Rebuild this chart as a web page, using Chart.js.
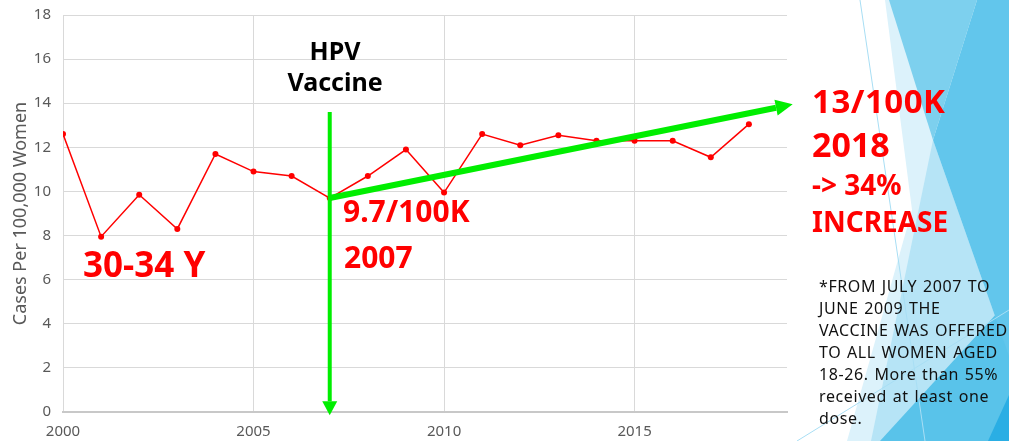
<!DOCTYPE html>
<html>
<head>
<meta charset="utf-8">
<script src="https://cdn.jsdelivr.net/npm/chart.js@4/dist/chart.umd.min.js"></script>
<style>
  html, body { margin: 0; padding: 0; background: #fff; }
  #wrap { position: relative; width: 1009px; height: 441px; overflow: hidden; font-family: "Noto Sans", sans-serif; }
  #bg, #chart { position: absolute; left: 0; top: 0; }
  .note { position: absolute; white-space: nowrap; font-weight: bold; line-height: 1; }
  .red { color: #ff0000; }
  #foot { position: absolute; left: 819px; top: 275px; font-size: 16px; line-height: 22px; color: #111; letter-spacing: 0.6px; word-spacing: 1px; white-space: nowrap; }
</style>
</head>
<body>
<div id="wrap">
  <svg id="bg" width="1009" height="441">
    <polygon points="885,0 1009,0 1009,441 847,441 912,210" fill="#dcf2fb"/>
    <polygon points="933,140 1009,356 1009,441 871,441" fill="#b6e4f6"/>
    <polygon points="880,441 1009,300 1009,441" fill="#59c3ea"/>
    <polygon points="977,0 1009,0 1009,356 933,140" fill="#62c6ec"/>
    <polygon points="889,0 977,0 933,140" fill="#7dd0ee"/>
    <polygon points="988,441 1009,395 1009,441" fill="#2aaee4"/>
    <line x1="860" y1="0" x2="925" y2="441" stroke="#a8def4" stroke-width="1"/>
    <line x1="797" y1="441" x2="1009" y2="310" stroke="#a8def4" stroke-width="1"/>
  </svg>
  <canvas id="chart" width="1009" height="441"></canvas>

  <div class="note" style="left:285px;width:100px;text-align:center;top:38px;font-size:25px;color:#000;">HPV</div>
  <div class="note" style="left:285px;width:100px;text-align:center;top:69px;font-size:25px;color:#000;">Vaccine</div>
  <div class="note red" style="left:83px;top:246px;font-size:35px;">30-34 Y</div>
  <div class="note red" style="left:343px;top:196px;font-size:30px;">9.7/100K</div>
  <div class="note red" style="left:344px;top:242px;font-size:30px;">2007</div>
  <div class="note red" style="left:812px;top:84px;font-size:33px;letter-spacing:0.5px;">13/100K</div>
  <div class="note red" style="left:812px;top:127px;font-size:34px;">2018</div>
  <div class="note red" style="left:812px;top:170px;font-size:28px;">-&gt; 34%</div>
  <div class="note red" style="left:812px;top:207px;font-size:28px;">INCREASE</div>
  <div id="foot">*FROM JULY 2007 TO<br>JUNE 2009 THE<br>VACCINE WAS OFFERED<br>TO ALL WOMEN AGED<br>18-26. More than 55%<br>received at least one<br>dose.</div>
</div>

<script>
// cervical cancer rate, women 30-34
const years = [2000, 2001, 2002, 2003, 2004, 2005, 2006, 2007, 2008, 2009,
               2010, 2011, 2012, 2013, 2014, 2015, 2016, 2017, 2018];
const rates = [12.6, 7.95, 9.85, 8.3, 11.7, 10.9, 10.7, 9.7, 10.7, 11.9,
               9.95, 12.6, 12.1, 12.55, 12.3, 12.3, 12.3, 11.55, 13.05];
const yearTicks = [2000, 2005, 2010, 2015];

// green arrows, in data units: [fromYear, fromValue, toYear, toValue]
const vaccineArrow = [2007, 13.6, 2007, -0.15];
const trendArrow = [2007, rates[7], 2019.15, 13.95];

function drawArrow(ctx, x1, y1, x2, y2, width, headLen, headW) {
  const ang = Math.atan2(y2 - y1, x2 - x1);
  const bx = x2 - headLen * Math.cos(ang);
  const by = y2 - headLen * Math.sin(ang);
  ctx.beginPath();
  ctx.lineWidth = width;
  ctx.moveTo(x1, y1);
  ctx.lineTo(bx, by);
  ctx.stroke();
  ctx.beginPath();
  ctx.moveTo(x2, y2);
  ctx.lineTo(bx + headW / 2 * Math.sin(ang), by - headW / 2 * Math.cos(ang));
  ctx.lineTo(bx - headW / 2 * Math.sin(ang), by + headW / 2 * Math.cos(ang));
  ctx.closePath();
  ctx.fill();
}

const arrowPlugin = {
  id: 'arrows',
  afterDatasetsDraw(chart) {
    const { ctx, scales: { x, y } } = chart;
    ctx.save();
    ctx.strokeStyle = '#00ee00';
    ctx.fillStyle = '#00ee00';
    ctx.lineCap = 'butt';
    const v = vaccineArrow;
    drawArrow(ctx, x.getPixelForValue(v[0]), y.getPixelForValue(v[1]),
              x.getPixelForValue(v[2]), y.getPixelForValue(v[3]), 4, 14, 15);
    const t = trendArrow;
    drawArrow(ctx, x.getPixelForValue(t[0]), y.getPixelForValue(t[1]),
              x.getPixelForValue(t[2]), y.getPixelForValue(t[3]), 6, 17, 16);
    ctx.restore();
  }
};

const tickColor = '#595959';
const gridColor = '#d9d9d9';

new Chart(document.getElementById('chart').getContext('2d'), {
  type: 'line',
  data: {
    datasets: [{
      data: years.map((yr, i) => ({ x: yr, y: rates[i] })),
      borderColor: '#ff0000',
      backgroundColor: '#ff0000',
      borderWidth: 1.5,
      pointRadius: 3,
      pointBorderWidth: 0,
      tension: 0,
      fill: false
    }]
  },
  options: {
    responsive: false,
    devicePixelRatio: 1,
    animation: false,
    layout: { padding: { left: 0, top: 15, right: 222, bottom: 0 } },
    plugins: { legend: { display: false }, tooltip: { enabled: false } },
    scales: {
      x: {
        type: 'linear',
        min: 2000,
        max: 2019,
        afterBuildTicks: s => { s.ticks = yearTicks.map(v => ({ value: v })); },
        afterFit: s => { s.height = 29; s.paddingLeft = 0; s.paddingRight = 0; },
        ticks: {
          color: tickColor,
          font: { family: 'Noto Sans', size: 15 },
          padding: 11,
          maxRotation: 0,
          callback: v => String(v)
        },
        grid: { color: gridColor, lineWidth: 1, drawTicks: false },
        border: { color: '#c8c8c8', width: 2 }
      },
      y: {
        min: 0,
        max: 18,
        afterFit: s => { s.width = 63; s.paddingTop = 0; s.paddingBottom = 0; },
        ticks: {
          stepSize: 2,
          color: tickColor,
          font: { family: 'Noto Sans', size: 15 },
          padding: 12
        },
        grid: { color: gridColor, lineWidth: 1, drawTicks: false },
        border: { display: false },
        title: {
          display: true,
          text: 'Cases Per 100,000 Women',
          color: tickColor,
          font: { family: 'Noto Sans', size: 18 },
          padding: { top: 10, bottom: 0 }
        }
      }
    }
  },
  plugins: [arrowPlugin]
});
</script>
</body>
</html>
